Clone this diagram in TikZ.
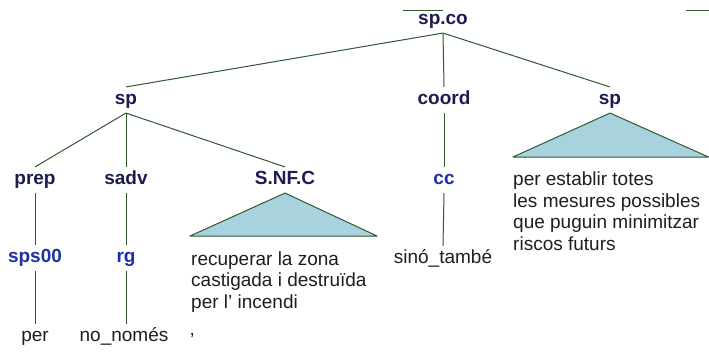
\documentclass[tikz,border=0pt]{standalone}
\usepackage{fontspec}
\setmainfont{Liberation Sans}
\usetikzlibrary{calc}
\definecolor{edgecol}{HTML}{2F5A2F}
\definecolor{catcol}{HTML}{1C1C50}
\definecolor{poscol}{HTML}{1F2FA8}
\definecolor{wordcol}{HTML}{1E1E1E}
\definecolor{trifill}{HTML}{A8D2DE}
\begin{document}
\begin{tikzpicture}[x=1pt,y=-1pt,
  every node/.style={font=\fontsize{19}{21.5}\selectfont, inner xsep=0pt, inner ysep=4pt,
    text height=13.7pt, text depth=4pt},
  catbox/.style={text=catcol, font=\fontsize{19}{21.5}\selectfont\bfseries},
  posbox/.style={text=poscol, font=\fontsize{19}{21.5}\selectfont\bfseries},
  wordbox/.style={text=wordcol},
  blockbox/.style={text=wordcol, align=left, anchor=base west, inner sep=0pt, text height=, text depth=},
  edge/.style={draw=edgecol, line width=1pt},
  tri/.style={draw=edgecol, fill=trifill, line width=1pt, line join=round}]
\useasboundingbox (0,0) rectangle (709,351);
\fill[white] (0,0) rectangle (709,351);
% stray top strokes
\coordinate (ta) at (403,10); \coordinate (tb) at (443,10);
\coordinate (tc) at (686,10); \coordinate (td) at (709,10);
\draw[edge] (ta) -- (tb);
\draw[edge] (tc) -- (td);
% nodes
\node[catbox] (spco) at (443,20) {sp.co};
\node[catbox] (sp1) at (126,100) {sp};
\node[catbox] (coord) at (444,100) {coord};
\node[catbox] (sp2) at (610,100) {sp};
\node[catbox] (prep) at (35,180) {prep};
\node[catbox] (sadv) at (126,180) {sadv};
\node[catbox] (snfc) at (285,180) {S.NF.C};
\node[posbox] (cc) at (444,180) {cc};
\node[posbox] (sps) at (35,258) {sps00};
\node[posbox] (rg) at (126,258) {rg};
\node[wordbox] (sino) at (443,259) {sinó\_també};
\node[wordbox] (per) at (35,337) {per};
\node[wordbox] (nonomes) at (124,337) {no\_només};
\node[wordbox, anchor=west] (apos) at (190,342) {’};
% edges
\draw[edge] (spco.south) -- (sp1.north);
\draw[edge] (spco.south) -- (coord.north);
\draw[edge] (spco.south) -- (sp2.north);
\draw[edge] (sp1.south) -- (prep.north);
\draw[edge] (sp1.south) -- (sadv.north);
\draw[edge] (sp1.south) -- (snfc.north);
\draw[edge] (prep.south) -- (sps.north);
\draw[edge] (sps.south) -- (per.north);
\draw[edge] (sadv.south) -- (rg.north);
\draw[edge] (rg.south) -- (rg.south |- nonomes.north);
\draw[edge] (coord.south) -- (cc.north);
\draw[edge] (cc.south) -- (sino.north);
% triangles
\coordinate (t1l) at (190,236); \coordinate (t1r) at (377,236);
\draw[tri] (snfc.south) -- (t1l) -- (t1r) -- cycle;
\coordinate (t2l) at (513,157); \coordinate (t2r) at (708.5,157);
\draw[tri] (sp2.south) -- (t2l) -- (t2r) -- cycle;
% yields (base = baseline of last line)
\node[blockbox] (y1) at (191,308) {recuperar la zona\\castigada i destruïda\\per l’ incendi};
\node[blockbox] (y2) at (513,250) {per establir totes\\les mesures possibles\\que puguin minimitzar\\riscos futurs};
\end{tikzpicture}
\end{document}
